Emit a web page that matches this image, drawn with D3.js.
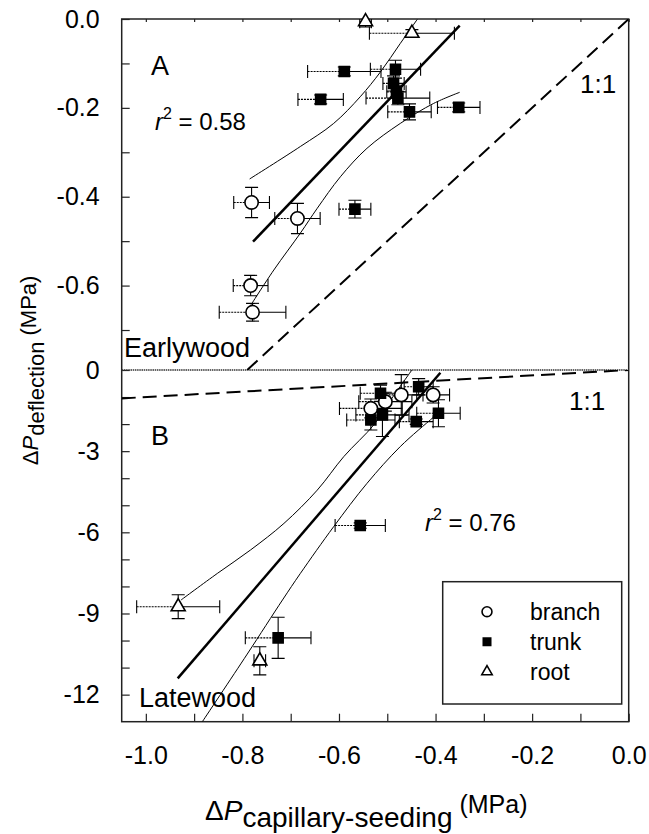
<!DOCTYPE html>
<html>
<head>
<meta charset="utf-8">
<script src="https://cdn.jsdelivr.net/npm/d3@7"></script>
<style>
  body { margin: 0; background: #fff; }
  svg { font-family: "Liberation Sans", Arial, Helvetica, sans-serif; }
</style>
</head>
<body>
<div id="chart"></div>
<script>
// points are [x, y, xerr, yerr] (MPa)
const branchA = [[-0.781, -0.413, 0.037, 0.034], [-0.686, -0.449, 0.047, 0.034],
  [-0.783, -0.600, 0.036, 0.023], [-0.779, -0.660, 0.069, 0.020]];
const trunkA = [[-0.589, -0.118, 0.076, 0.010], [-0.483, -0.113, 0.052, 0.020],
  [-0.487, -0.145, 0.022, 0.017], [-0.481, -0.164, 0.020, 0.015],
  [-0.478, -0.178, 0.066, 0.015], [-0.638, -0.181, 0.047, 0.010],
  [-0.454, -0.209, 0.045, 0.018], [-0.352, -0.199, 0.044, 0.010],
  [-0.567, -0.428, 0.033, 0.020]];
const rootA = [[-0.545, -0.006, 0.012, 0.012], [-0.449, -0.032, 0.088, 0.008]];

const branchB = [[-0.534, -1.42, 0.065, 0.35], [-0.504, -1.17, 0.055, 0.35],
  [-0.471, -0.92, 0.045, 0.75], [-0.405, -0.92, 0.034, 0.30]];
const trunkB = [[-0.514, -0.86, 0.042, 0.30], [-0.435, -0.62, 0.030, 0.30],
  [-0.534, -1.85, 0.050, 0.37], [-0.510, -1.66, 0.055, 0.80],
  [-0.440, -1.91, 0.035, 0.10], [-0.394, -1.60, 0.045, 0.50],
  [-0.556, -5.75, 0.052, 0.10], [-0.726, -9.90, 0.068, 0.76]];
const rootB = [[-0.933, -8.75, 0.086, 0.44], [-0.764, -10.75, 0.012, 0.52]];

// regression lines and 95% bands as drawn
const fitA = [[-0.778, -0.501], [-0.350, -0.015]];
const bandAUpper = [[-0.785, -0.360], [-0.680, -0.287], [-0.611, -0.235], [-0.556, -0.175],
  [-0.514, -0.119], [-0.473, -0.055], [-0.438, -0.001]];
const bandALower = [[-0.785, -0.648], [-0.735, -0.565], [-0.680, -0.482], [-0.645, -0.426],
  [-0.597, -0.355], [-0.542, -0.291], [-0.473, -0.235], [-0.404, -0.190], [-0.350, -0.165]];
const fitB = [[-0.934, -11.40], [-0.390, -0.10]];
const bandBUpper = [[-0.927, -8.50], [-0.852, -7.52], [-0.783, -6.65], [-0.714, -5.67],
  [-0.645, -4.44], [-0.590, -3.20], [-0.528, -2.03], [-0.493, -1.11], [-0.449, 0.0]];
const bandBLower = [[-0.883, -13.0], [-0.790, -10.5], [-0.717, -8.50], [-0.680, -7.52],
  [-0.611, -5.79], [-0.542, -4.19], [-0.473, -2.83], [-0.404, -1.74], [-0.385, -1.45]];

const xTicks = [-1.0, -0.8, -0.6, -0.4, -0.2, 0.0];
const xMinor = [-0.9, -0.7, -0.5, -0.3, -0.1];
const yTicksA = [0.0, -0.2, -0.4, -0.6];
const yMinorA = [-0.1, -0.3, -0.5, -0.7];
const yTicksB = [0, -3, -6, -9, -12];
const yMinorB = [-1, -2, -4, -5, -7, -8, -10, -11];
const legendItems = ['branch', 'trunk', 'root'];

const width = 649, height = 834;
const plotLeft = 121.7, plotRight = 628.7, plotTop = 19, plotMid = 370, plotBottom = 721.7;

const svg = d3.select('#chart').append('svg')
  .attr('width', width)
  .attr('height', height);

const x = d3.scaleLinear().domain([-1.05, 0]).range([plotLeft, plotRight]);
const yA = d3.scaleLinear().domain([-0.79, 0]).range([plotMid, plotTop]);
const yB = d3.scaleLinear().domain([-13, 0]).range([plotBottom, plotMid]);

// plain hyphen instead of d3's unicode minus
const fmt1 = d => d3.format('.1f')(d).replace('\u2212', '-');
const fmt0 = d => d3.format('d')(d).replace('\u2212', '-');

const defs = svg.append('defs');
defs.append('clipPath').attr('id', 'clipA').append('rect')
  .attr('x', plotLeft).attr('y', plotTop).attr('width', plotRight - plotLeft).attr('height', plotMid - plotTop);
defs.append('clipPath').attr('id', 'clipB').append('rect')
  .attr('x', plotLeft).attr('y', plotMid).attr('width', plotRight - plotLeft).attr('height', plotBottom - plotMid);

// axes (ticks point inward)
function styleAxis(g) {
  g.select('.domain').remove();
  g.selectAll('line').attr('stroke', '#222').attr('stroke-width', 1.2);
  g.selectAll('text').attr('font-size', '25px').attr('fill', '#000');
}

svg.append('g').attr('transform', `translate(0,${plotBottom})`)
  .call(d3.axisBottom(x).tickValues(xTicks).tickSize(-8).tickPadding(25).tickFormat(fmt1))
  .call(styleAxis);
svg.append('g').attr('transform', `translate(0,${plotBottom})`)
  .call(d3.axisBottom(x).tickValues(xMinor).tickSize(-8).tickFormat(''))
  .call(styleAxis);
svg.append('g').attr('transform', `translate(0,${plotTop})`)
  .call(d3.axisTop(x).tickValues(xTicks.concat(xMinor)).tickSize(-3).tickFormat(''))
  .call(styleAxis);

svg.append('g').attr('transform', `translate(${plotLeft},0)`)
  .call(d3.axisLeft(yA).tickValues(yTicksA).tickSize(-8).tickPadding(22).tickFormat(fmt1))
  .call(styleAxis);
svg.append('g').attr('transform', `translate(${plotLeft},0)`)
  .call(d3.axisLeft(yA).tickValues(yMinorA).tickSize(-8).tickFormat(''))
  .call(styleAxis);
svg.append('g').attr('transform', `translate(${plotLeft},0)`)
  .call(d3.axisLeft(yB).tickValues(yTicksB).tickSize(-8).tickPadding(22).tickFormat(fmt0))
  .call(styleAxis);
svg.append('g').attr('transform', `translate(${plotLeft},0)`)
  .call(d3.axisLeft(yB).tickValues(yMinorB).tickSize(-8).tickFormat(''))
  .call(styleAxis);

// frame and panel divider
svg.append('rect')
  .attr('x', plotLeft).attr('y', plotTop)
  .attr('width', plotRight - plotLeft).attr('height', plotBottom - plotTop)
  .attr('fill', 'none').attr('stroke', '#222').attr('stroke-width', 1.5);
svg.append('line')
  .attr('x1', plotLeft).attr('x2', plotRight).attr('y1', yB(0)).attr('y2', yB(0))
  .attr('stroke', '#333').attr('stroke-width', 1.5).attr('stroke-dasharray', '1.5,0.7');

function marker(type, k) {
  if (type === 'branch') return d3.symbol(d3.symbolCircle, 140 * k)();
  if (type === 'trunk') return d3.symbol(d3.symbolSquare, 100 * k)();
  return d3.symbol(d3.symbolTriangle, 85 * k)();
}
function markerStyle(sel, type) {
  sel.attr('fill', type === 'trunk' ? '#000' : '#fff')
    .attr('stroke', '#000').attr('stroke-width', 1.6);
}

function drawPanel(y, clipId, fit, upper, lower, series) {
  const g = svg.append('g').attr('clip-path', `url(#${clipId})`);
  const line = d3.line().x(d => x(d[0])).y(d => y(d[1]));
  const curve = d3.line().curve(d3.curveCatmullRom).x(d => x(d[0])).y(d => y(d[1]));

  // 1:1 line
  const lo = Math.max(-1.05, y.domain()[0]);
  g.append('path')
    .datum([[lo, lo], [0, 0]])
    .attr('d', line)
    .attr('fill', 'none').attr('stroke', '#000').attr('stroke-width', 2)
    .attr('stroke-dasharray', '14,7');

  [upper, lower].forEach(b => {
    g.append('path').datum(b).attr('d', curve)
      .attr('fill', 'none').attr('stroke', '#000').attr('stroke-width', 1);
  });
  g.append('path').datum(fit).attr('d', line)
    .attr('fill', 'none').attr('stroke', '#000').attr('stroke-width', 2.5);

  const all = series.flatMap(s => s.data);
  const cap = 6.5;
  const eb = g.append('g').attr('stroke', '#000').attr('stroke-width', 1.1);
  all.forEach(d => {
    const cx = x(d[0]), cy = y(d[1]);
    const x0 = x(d[0] - d[2]), x1 = x(d[0] + d[2]);
    const y0 = y(d[1] - d[3]), y1 = y(d[1] + d[3]);
    eb.append('line').attr('x1', x0).attr('x2', cx).attr('y1', cy).attr('y2', cy)
      .attr('stroke-dasharray', '2,1');
    eb.append('line').attr('x1', cx).attr('x2', x1).attr('y1', cy).attr('y2', cy);
    eb.append('line').attr('x1', x0).attr('x2', x0).attr('y1', cy - cap).attr('y2', cy + cap);
    eb.append('line').attr('x1', x1).attr('x2', x1).attr('y1', cy - cap).attr('y2', cy + cap);
    eb.append('line').attr('x1', cx).attr('x2', cx).attr('y1', y0).attr('y2', y1);
    eb.append('line').attr('x1', cx - cap).attr('x2', cx + cap).attr('y1', y0).attr('y2', y0);
    eb.append('line').attr('x1', cx - cap).attr('x2', cx + cap).attr('y1', y1).attr('y2', y1);
  });

  const mg = svg.append('g');
  series.forEach(s => {
    mg.selectAll(null).data(s.data).enter().append('path')
      .attr('transform', d => `translate(${x(d[0])},${y(d[1])})`)
      .attr('d', marker(s.type, 1))
      .call(markerStyle, s.type);
  });
}

drawPanel(yA, 'clipA', fitA, bandAUpper, bandALower, [
  { type: 'branch', data: branchA }, { type: 'trunk', data: trunkA }, { type: 'root', data: rootA }]);
drawPanel(yB, 'clipB', fitB, bandBUpper, bandBLower, [
  { type: 'branch', data: branchB }, { type: 'trunk', data: trunkB }, { type: 'root', data: rootB }]);

// panel texts
function label(tx, ty, str, size) {
  return svg.append('text').attr('x', tx).attr('y', ty)
    .attr('font-size', size + 'px').text(str);
}
label(151, 75, 'A', 27);
label(151, 445, 'B', 27);
label(580, 93, '1:1', 26);
label(569, 410, '1:1', 26);
label(124, 357, 'Earlywood', 27);
label(139, 707, 'Latewood', 27);

function r2(tx, ty, val) {
  const t = svg.append('text').attr('x', tx).attr('y', ty).attr('font-size', '24px');
  t.append('tspan').attr('font-style', 'italic').text('r');
  t.append('tspan').attr('dy', -11).attr('font-size', '16px').text('2');
  t.append('tspan').attr('dy', 11).text(' = ' + val);
}
r2(155, 130, '0.58');
r2(425, 531, '0.76');

// legend
const lg = svg.append('g');
lg.append('rect')
  .attr('x', 442.7).attr('y', 581.7).attr('width', 179).attr('height', 122.3)
  .attr('fill', '#fff').attr('stroke', '#222').attr('stroke-width', 1.5);
legendItems.forEach((name, i) => {
  const ly = 611.7 + i * 30;
  lg.append('path')
    .attr('transform', `translate(487,${ly})`)
    .attr('d', marker(name, 0.55))
    .call(markerStyle, name);
  lg.append('text').attr('x', 530).attr('y', ly).attr('dy', '0.35em')
    .attr('font-size', '23px').text(name);
});

// axis titles
const xt = svg.append('text')
  .attr('x', 205).attr('y', 820)
  .attr('font-size', '28px');
xt.append('tspan').text('Δ');
xt.append('tspan').attr('font-style', 'italic').text('P');
xt.append('tspan').attr('dy', 7).text('capillary-seeding');
xt.append('tspan').attr('dy', -14).attr('font-size', '25px').text(' (MPa)');

const yt = svg.append('text')
  .attr('transform', `translate(38,${(plotTop + plotBottom) / 2}) rotate(-90)`)
  .attr('text-anchor', 'middle').attr('font-size', '22px');
yt.append('tspan').text('Δ');
yt.append('tspan').attr('font-style', 'italic').text('P');
yt.append('tspan').attr('dy', 6).text('deflection');
yt.append('tspan').attr('dy', -8).attr('font-size', '22px').text(' (MPa)');
</script>
</body>
</html>
